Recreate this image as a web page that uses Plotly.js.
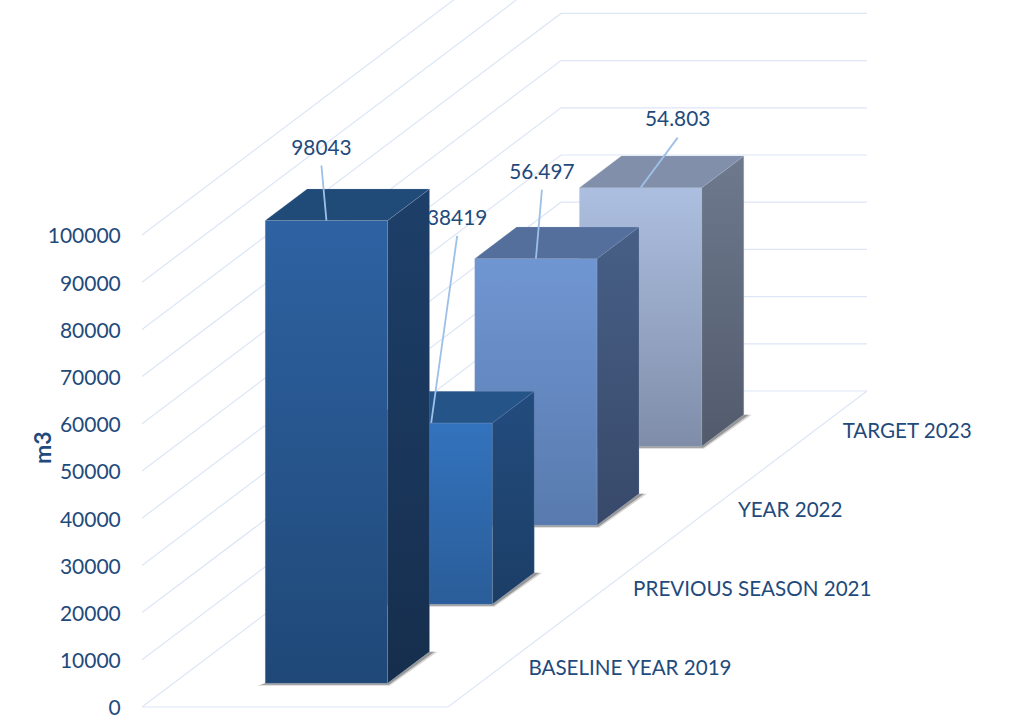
<!DOCTYPE html>
<html>
<head>
<meta charset="utf-8">
<script src="https://cdn.plot.ly/plotly-3.0.1.min.js"></script>
<style>html,body{margin:0;padding:0;background:#fff}#chart{width:1012px;height:718px}</style>
</head>
<body>
<div id="chart"></div>
<script>
// Water use per period, in cubic metres
const categories = ['BASELINE YEAR 2019', 'PREVIOUS SEASON 2021', 'YEAR 2022', 'TARGET 2023'];
const values = [98043, 38419, 56497, 54803];
const valueLabels = ['98043', '38419', '56.497', '54.803'];
const tickValues = [0, 10000, 20000, 30000, 40000, 50000, 60000, 70000, 80000, 90000, 100000];

// Face colours per bar: gradient [bottom, top] for the front and side, flat for the top
const frontColors = [['#1F4877', '#2E62A2'], ['#2A5D99', '#3373BD'], ['#587AAE', '#7096D2'], ['#7F8DA9', '#ADBFE0']];
const sideColors = [['#162E4D', '#1D3F69'], ['#1B3E66', '#234C7E'], ['#38496A', '#475F86'], ['#525B6C', '#6E798E']];
const topColors = ['#204A78', '#255488', '#546F9C', '#818FAA'];

// Oblique projection of the 3D box onto the flat plot
const W = 1012, H = 718;
const originX = 142, originY = 707;       // pixel of the front-left floor corner
const pxPerU = 306;                       // width of the floor in pixels
const pxPerValue = 47.2 / 10000;          // pixels per cubic metre
const slotDX = 104.75 / pxPerU;           // shift along x for one category of depth
const slotDY = 79 / pxPerValue;           // shift along y for one category of depth
const gapU = 0.3, barU = 0.4;             // bar inset and size within a slot

const project = (u, d, v) => [u + d * slotDX, v + d * slotDY];
const pxX = p => p / pxPerU;
const pxY = p => p / pxPerValue;

function poly(points, extra) {
  const pts = points.map(p => project(p[0], p[1], p[2]));
  return Object.assign({
    type: 'scatter', mode: 'lines', fill: 'toself', hoverinfo: 'skip',
    x: pts.map(p => p[0]).concat(pts[0][0]),
    y: pts.map(p => p[1]).concat(pts[0][1])
  }, extra);
}

function gradient(c) {
  return { type: 'vertical', colorscale: [[0, c[0]], [1, c[1]]] };
}

// Wall and floor grid
const gridX = [], gridY = [];
const depth = categories.length;
tickValues.forEach(v => {
  [[0, 0], [0, depth], [1, depth]].forEach(q => {
    const p = project(q[0], q[1], v);
    gridX.push(p[0]); gridY.push(p[1]);
  });
  gridX.push(null); gridY.push(null);
});
[[0, 0], [1, 0], [1, depth]].forEach(q => {
  const p = project(q[0], q[1], 0);
  gridX.push(p[0]); gridY.push(p[1]);
});
const gridTrace = {
  type: 'scatter', mode: 'lines', x: gridX, y: gridY, hoverinfo: 'skip',
  line: { color: '#DDE6F5', width: 1.2 }
};

const edge = { color: 'rgba(170,186,212,0.2)', width: 1 };

// Soft contact shadow along the front and right of a bar's foot
function shadow(u0, u1, d0, d1, spread, drop, colour) {
  return poly([
    [u0, d0, 0], [u1, d0, 0], [u1, d1, 0], [u1 + pxX(spread), d1, 0],
    [u1 + pxX(spread / 4), d0, -pxY(drop)], [u0 - pxX(spread), d0, -pxY(drop)]
  ], { fillcolor: colour, line: { width: 0 } });
}

function barTraces(i) {
  const v = values[i];
  const d0 = i + gapU, d1 = d0 + barU, u0 = gapU, u1 = gapU + barU;
  const front = poly([[u0, d0, 0], [u1, d0, 0], [u1, d0, v], [u0, d0, v]],
    { fillgradient: gradient(frontColors[i]), line: edge });
  const side = poly([[u1, d0, 0], [u1, d1, 0], [u1, d1, v], [u1, d0, v]],
    { fillgradient: gradient(sideColors[i]), line: edge });
  const top = poly([[u0, d0, v], [u1, d0, v], [u1, d1, v], [u0, d1, v]],
    { fillcolor: topColors[i], line: edge });
  return [
    shadow(u0, u1, d0, d1, 8, 2.5, 'rgba(150,150,150,0.4)'),
    shadow(u0, u1, d0, d1, 5, 1.5, 'rgba(100,100,100,0.55)'),
    front, side, top
  ];
}

// Leader offsets from the top front edge of a bar, and label offsets from the leader's end (px)
const leaderOffsets = [[-5, 55], [26, 187], [6, 69], [37, 50]];
const labelLift = [16, 16, 16, 17];

function leaderTrace(i) {
  const mid = gapU + barU / 2, d0 = i + gapU;
  const a = project(mid, d0, values[i]);
  const b = [a[0] + pxX(leaderOffsets[i][0]), a[1] + pxY(leaderOffsets[i][1])];
  return {
    type: 'scatter', mode: 'lines', hoverinfo: 'skip',
    x: [a[0], b[0]], y: [a[1], b[1]],
    line: { color: '#9DC0E8', width: 1.8 }
  };
}

function labelTrace(i) {
  const mid = gapU + barU / 2, d0 = i + gapU;
  const a = project(mid, d0, values[i]);
  return {
    type: 'scatter', mode: 'text', hoverinfo: 'skip',
    x: [a[0] + pxX(leaderOffsets[i][0])],
    y: [a[1] + pxY(leaderOffsets[i][1] + labelLift[i])],
    text: [valueLabels[i]], textposition: 'middle center',
    textfont: { family: 'Lato, sans-serif', size: 20.8, color: '#1F4A7C' }
  };
}

// Category names sit on the floor beyond its right edge
const catPts = categories.map((c, i) => {
  const p = project(1 + pxX(28), i + 0.5, 0);
  return [p[0], p[1] - pxY(2.5)];
});
const categoryTrace = {
  type: 'scatter', mode: 'text', hoverinfo: 'skip',
  x: catPts.map(p => p[0]), y: catPts.map(p => p[1]),
  text: categories, textposition: 'middle right',
  textfont: { family: 'Lato, sans-serif', size: 20.6, color: '#1F4A7C' }
};

// Paint from the far bar forward so nearer boxes cover what is behind them
const traces = [gridTrace, categoryTrace];
for (let i = categories.length - 1; i >= 0; i--) {
  traces.push(labelTrace(i));
  traces.push(...barTraces(i));
}
for (let i = 0; i < categories.length; i++) traces.push(leaderTrace(i));

const layout = {
  width: W, height: H,
  margin: { l: originX, r: 0, t: 0, b: 0, pad: 0 },
  paper_bgcolor: '#fff', plot_bgcolor: '#fff',
  showlegend: false, hovermode: false,
  xaxis: {
    visible: false, fixedrange: true,
    range: [0, (W - originX) / pxPerU]
  },
  yaxis: {
    range: [-(H - originY) / pxPerValue, originY / pxPerValue],
    fixedrange: true, showgrid: false, zeroline: false, showline: false,
    tickmode: 'array', tickvals: tickValues, ticktext: tickValues.map(String),
    ticks: 'outside', ticklen: 16, tickcolor: 'rgba(0,0,0,0)',
    ticklabeloverflow: 'allow', ticklabelshift: 1,
    tickfont: { family: 'Lato, sans-serif', size: 21, color: '#1F4A7C' }
  },
  annotations: [{
    text: '<b>m3</b>', textangle: -90, showarrow: false,
    xref: 'paper', yref: 'paper', xanchor: 'center', yanchor: 'middle',
    x: (42 - originX) / (W - originX), y: 1 - 448 / H,
    font: { family: 'Lato, sans-serif', size: 23, color: '#1F4A7C' }
  }]
};

Plotly.newPlot('chart', traces, layout, { displayModeBar: false, staticPlot: true });
</script>
</body>
</html>
